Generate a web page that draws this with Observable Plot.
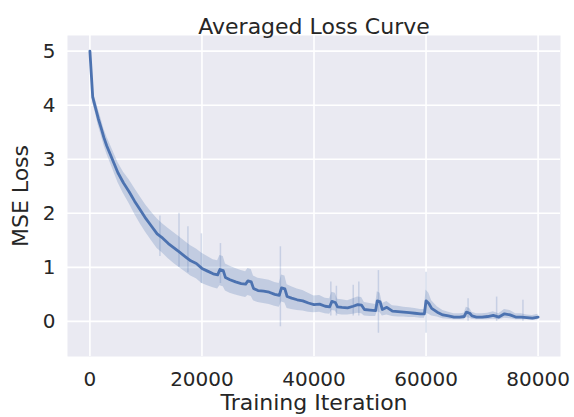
<!DOCTYPE html>
<html><head><meta charset="utf-8">
<script src="https://cdn.jsdelivr.net/npm/d3@7"></script>
<script src="https://cdn.jsdelivr.net/npm/@observablehq/plot@0.6"></script>
<style>body{margin:0;background:#fff}</style>
</head><body><div id="chart"></div>
<script>
const iteration = [0,500,1000,1500,2000,2500,3000,4000,5000,6000,7000,8000,9000,10000,11000,12000,13000,14000,15000,16000,17000,18000,19000,20000,21000,22000,22800,23200,23800,24200,25000,26000,27000,27800,28200,28800,29200,30000,31000,32000,33000,33800,34200,34800,35200,36000,37000,38000,39000,40000,41000,42000,42800,43200,43800,44200,45000,46000,47000,47800,48500,49000,50000,51000,51300,51800,52200,53000,54000,55000,56000,57000,58000,59000,59700,60000,60500,61000,62000,63000,64000,65000,66000,66800,67200,67800,68200,69000,70000,71000,72000,73000,74000,75000,76000,77000,78000,79000,80000];
const meanLoss = [5.00,4.15,3.95,3.75,3.58,3.40,3.25,3.00,2.75,2.56,2.40,2.22,2.06,1.90,1.76,1.62,1.54,1.44,1.36,1.28,1.20,1.12,1.07,0.98,0.93,0.88,0.86,0.96,0.94,0.81,0.77,0.73,0.70,0.69,0.75,0.73,0.61,0.57,0.56,0.54,0.50,0.48,0.62,0.60,0.46,0.43,0.40,0.38,0.34,0.31,0.32,0.28,0.27,0.37,0.35,0.27,0.26,0.25,0.28,0.31,0.30,0.22,0.21,0.20,0.38,0.36,0.22,0.26,0.19,0.18,0.17,0.16,0.15,0.14,0.14,0.38,0.33,0.24,0.17,0.12,0.10,0.08,0.08,0.09,0.17,0.15,0.10,0.08,0.08,0.09,0.11,0.08,0.14,0.12,0.08,0.08,0.07,0.06,0.08];
const ciLow = [4.98,4.05,3.85,3.62,3.45,3.26,3.10,2.84,2.57,2.36,2.18,1.98,1.80,1.64,1.49,1.35,1.26,1.16,1.07,0.99,0.92,0.84,0.79,0.70,0.66,0.62,0.60,0.66,0.64,0.56,0.52,0.49,0.46,0.44,0.48,0.46,0.38,0.35,0.33,0.31,0.28,0.26,0.36,0.34,0.24,0.22,0.20,0.19,0.17,0.16,0.17,0.14,0.13,0.20,0.19,0.13,0.12,0.12,0.13,0.15,0.14,0.10,0.09,0.09,0.18,0.16,0.10,0.12,0.09,0.08,0.08,0.07,0.07,0.06,0.06,0.15,0.13,0.10,0.08,0.05,0.04,0.03,0.03,0.03,0.07,0.06,0.04,0.03,0.03,0.03,0.04,0.03,0.06,0.05,0.03,0.03,0.03,0.02,0.03];
const ciHigh = [5.02,4.28,4.10,3.92,3.75,3.56,3.42,3.18,2.94,2.76,2.62,2.46,2.30,2.15,2.02,1.90,1.80,1.72,1.64,1.56,1.48,1.40,1.34,1.26,1.20,1.14,1.12,1.22,1.20,1.06,1.02,0.98,0.94,0.92,0.98,0.96,0.84,0.80,0.78,0.76,0.72,0.70,0.86,0.84,0.68,0.64,0.60,0.57,0.52,0.47,0.48,0.43,0.42,0.54,0.52,0.41,0.40,0.38,0.42,0.45,0.44,0.35,0.33,0.31,0.55,0.52,0.33,0.37,0.29,0.28,0.26,0.25,0.24,0.22,0.22,0.58,0.52,0.38,0.27,0.20,0.17,0.14,0.14,0.15,0.26,0.24,0.17,0.14,0.14,0.15,0.18,0.14,0.22,0.20,0.14,0.14,0.12,0.11,0.13];

const spikeIter = [12500,15900,17500,19900,23300,34000,43000,44000,47000,48000,51500,60000,67500,72600,77300];
const spikeLow  = [1.20,1.00,0.90,0.70,0.70,-0.10,0.10,0.10,0.10,0.10,-0.22,-0.22,0.00,0.00,0.00];
const spikeHigh = [1.95,2.00,1.75,1.62,1.44,1.38,0.73,0.65,0.67,0.73,0.94,0.91,0.42,0.45,0.39];

const xTicks = [0,20000,40000,60000,80000];
const yTicks = [0,1,2,3,4,5];

const data = iteration.map((x,i)=>({x, mean:meanLoss[i], lo:ciLow[i], hi:ciHigh[i]}));
const spikes = spikeIter.map((x,i)=>({x, lo:spikeLow[i], hi:spikeHigh[i]}));
const blue = "#4C72B0";

const chart = Plot.plot({
  width:574, height:417,
  marginLeft:67, marginRight:14, marginTop:35, marginBottom:61,
  style:{fontFamily:"DejaVu Sans", fontSize:"20px", color:"#262626", background:"white"},
  x:{domain:[-4000,84000], label:null},
  y:{domain:[-0.65,5.29], label:null},
  marks:[
    Plot.frame({fill:"#EAEAF2", stroke:null}),
    Plot.gridX(xTicks, {stroke:"white", strokeOpacity:1, strokeWidth:1.6}),
    Plot.gridY(yTicks, {stroke:"white", strokeOpacity:1, strokeWidth:1.6}),
    Plot.areaY(data, {x:"x", y1:"lo", y2:"hi", fill:blue, fillOpacity:0.25}),
    Plot.ruleX(spikes, {x:"x", y1:"lo", y2:"hi", stroke:blue, strokeOpacity:0.22, strokeWidth:1.5}),
    Plot.lineY(data, {x:"x", y:"mean", stroke:blue, strokeWidth:2.8}),
    Plot.axisX(xTicks, {tickSize:0, tickPadding:15, tickFormat:d=>String(d), fontSize:20, label:null}),
    Plot.axisY(yTicks, {tickSize:0, tickPadding:12, tickFormat:d=>String(d), fontSize:20, label:null}),
    Plot.text(["Training Iteration"], {frameAnchor:"bottom", dy:53, fontSize:22}),
    Plot.text(["MSE Loss"], {frameAnchor:"left", dx:-47, textAnchor:"middle", rotate:-90, fontSize:22}),
    Plot.text(["Averaged Loss Curve"], {frameAnchor:"top", dy:-17, fontSize:22})
  ]
});
document.getElementById("chart").appendChild(chart);
</script>
</body></html>
